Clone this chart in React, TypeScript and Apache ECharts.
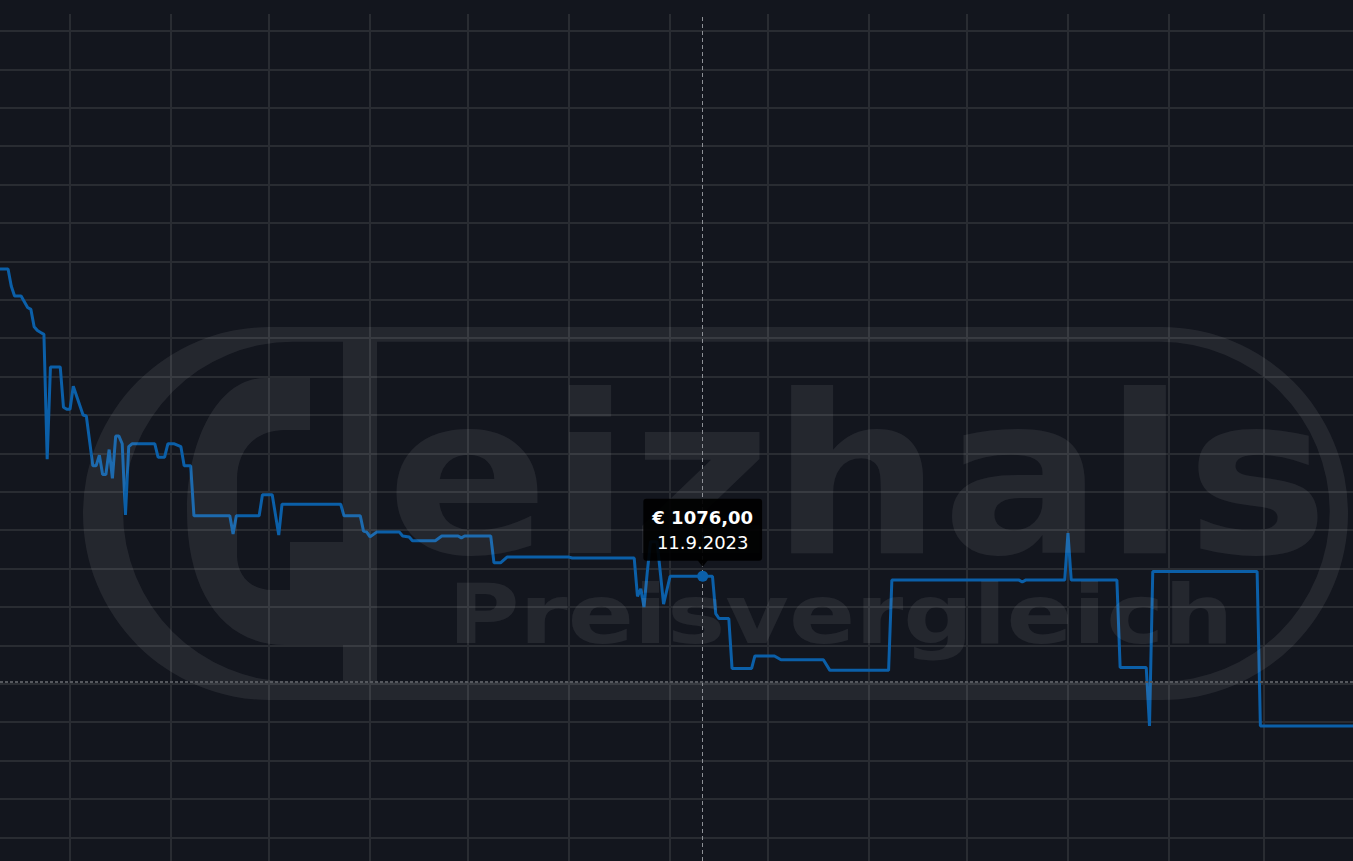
import React, { useEffect, useRef } from "react";
import * as echarts from "echarts";

// ---- data ----
const dates = [
  "2023-02-01", "2023-02-10", "2023-02-11", "2023-02-12", "2023-02-14", "2023-02-16",
  "2023-02-17", "2023-02-18", "2023-02-19", "2023-02-20", "2023-02-21", "2023-02-22",
  "2023-02-23", "2023-02-26", "2023-02-27", "2023-02-28", "2023-03-01", "2023-03-02",
  "2023-03-05", "2023-03-06", "2023-03-08", "2023-03-09", "2023-03-10", "2023-03-11",
  "2023-03-12", "2023-03-13", "2023-03-14", "2023-03-15", "2023-03-16", "2023-03-17",
  "2023-03-18", "2023-03-19", "2023-03-20", "2023-03-27", "2023-03-28", "2023-03-30",
  "2023-03-31", "2023-04-02", "2023-04-04", "2023-04-05", "2023-04-07", "2023-04-08",
  "2023-04-19", "2023-04-20", "2023-04-21", "2023-04-28", "2023-04-29", "2023-05-02",
  "2023-05-04", "2023-05-05", "2023-05-23", "2023-05-24", "2023-05-29", "2023-05-30",
  "2023-05-31", "2023-06-01", "2023-06-03", "2023-06-10", "2023-06-11", "2023-06-13",
  "2023-06-14", "2023-06-21", "2023-06-23", "2023-06-28", "2023-06-29", "2023-06-30",
  "2023-07-08", "2023-07-09", "2023-07-11", "2023-07-13", "2023-08-01", "2023-08-02",
  "2023-08-21", "2023-08-22", "2023-08-23", "2023-08-24", "2023-08-25", "2023-08-26",
  "2023-08-28", "2023-08-29", "2023-08-30", "2023-09-01", "2023-09-14", "2023-09-15",
  "2023-09-16", "2023-09-19", "2023-09-20", "2023-09-26", "2023-09-27", "2023-10-03",
  "2023-10-05", "2023-10-18", "2023-10-20", "2023-11-07", "2023-11-08", "2023-12-17",
  "2023-12-18", "2023-12-19", "2023-12-31", "2024-01-01", "2024-01-02", "2024-01-16",
  "2024-01-17", "2024-01-25", "2024-01-26", "2024-01-27", "2024-02-28", "2024-02-29",
  "2024-03-31",
];
const prices = [
  1236, 1236, 1227, 1222, 1222, 1216,
  1215, 1206, 1204, 1203, 1202, 1137,
  1185, 1185, 1164, 1163, 1163, 1175,
  1160, 1159.5, 1133.5, 1133.5, 1139, 1129,
  1129, 1142, 1127, 1149, 1149, 1145,
  1108, 1143.5, 1145, 1145, 1138, 1138,
  1145, 1145, 1143.5, 1133.5, 1133.5, 1107.5,
  1107.5, 1098, 1107.5, 1107.5, 1118.5, 1118.5,
  1097.5, 1113.5, 1113.5, 1107.5, 1107.5, 1099.5,
  1099, 1096.5, 1099, 1099, 1097, 1096.5,
  1094.5, 1094.5, 1097, 1097, 1096, 1097,
  1097, 1083, 1083, 1086, 1086, 1085.5,
  1085.5, 1065.5, 1069.5, 1060, 1078, 1094,
  1094, 1078, 1061.5, 1076, 1076, 1056.5,
  1054, 1054, 1028, 1028, 1034.5, 1034.5,
  1032.5, 1032.5, 1027, 1027, 1074, 1074,
  1073, 1074, 1074, 1098.5, 1074, 1074,
  1028.5, 1028.5, 998, 1078.5, 1078.5, 998,
  998,
];
const tipDate = "2023-09-11";
const tipPrice = 1076;
const refPrice = 1021;
const xRange = ["2023-02-07 12:45", "2024-03-28 09:36"];
const yRange = [927.7, 1368.85];
const yStep = 20;
const watermarkWords = ["eizhals", "Preisvergleich"];

// ---- styles ----
const BG = "#13161e";
const GRID = "#292c32";
const BLUE = "#0b5fa8";
const WM = "rgba(255,255,255,0.075)";

const LOGO_D =
  // outer stadium (cw)
  "M 269.5 327 L 1161.5 327 A 186.5 186.5 0 0 1 1161.5 700 L 269.5 700 A 186.5 186.5 0 0 1 269.5 327 Z " +
  // inner stadium (ccw, hole)
  "M 293 341.7 A 170 170 0 0 0 293 681.7 L 1159.7 681.7 A 170 170 0 0 0 1159.7 341.7 Z " +
  // g body with counter and spur
  "M 310 378 L 265 378 C 218 378 187 440 187 512 C 187 590 222 645 285 645 L 343 645 " +
  "L 343 542 L 290 542 L 290 590 L 272 590 C 250 590 237 575 237 555 L 237 480 " +
  "C 237 450 255 430 285 430 L 310 430 Z " +
  // g stem
  "M 343 341.7 L 377 341.7 L 377 681.7 L 343 681.7 Z";

echarts.graphic.registerShape("gzLogo", echarts.graphic.extendPath(LOGO_D, {}));

const fmtPrice = (p: number) => "€ " + p.toFixed(2).replace(".", ",");
const fmtDate = (s: string) => {
  const [y, m, d] = s.split("-").map(Number);
  return `${d}.${m}.${y}`;
};

export default function App() {
  const ref = useRef<HTMLDivElement>(null);
  useEffect(() => {
    if (!ref.current) return;
    const chart = echarts.init(ref.current, null, { renderer: "svg" });
    const seriesData = dates.map((d, i) => [d, prices[i]]);
    chart.setOption({
      animation: false,
      backgroundColor: BG,
      grid: { left: 0, right: 0, top: 14, bottom: 0, containLabel: false },
      xAxis: {
        type: "time",
        min: xRange[0],
        max: xRange[1],
        splitNumber: 14,
        axisLine: { show: false },
        axisTick: { show: false },
        axisLabel: { show: false },
        splitLine: {
          show: true,
          showMinLine: false,
          showMaxLine: false,
          lineStyle: { color: GRID, width: 2 },
        },
      },
      yAxis: {
        type: "value",
        min: yRange[0],
        max: yRange[1],
        splitNumber: 22,
        minInterval: yStep,
        maxInterval: yStep,
        axisLine: { show: false },
        axisTick: { show: false },
        axisLabel: { show: false },
        splitLine: {
          show: true,
          showMinLine: false,
          showMaxLine: false,
          lineStyle: { color: GRID, width: 2 },
        },
      },
      graphic: [
        { type: "gzLogo", x: 0, y: 0, z: 4, silent: true, style: { fill: WM } },
        {
          type: "text",
          x: 857.5,
          y: 476.5,
          scaleX: 1.086,
          z: 4,
          silent: true,
          style: {
            text: watermarkWords[0],
            fontSize: 221,
            fontWeight: "bold",
            fontFamily: "DejaVu Sans",
            fill: WM,
            textAlign: "center",
            textVerticalAlign: "middle",
          },
        },
        {
          type: "text",
          x: 840.75,
          y: 614.6,
          scaleX: 1.19,
          z: 4,
          silent: true,
          style: {
            text: watermarkWords[1],
            fontSize: 82,
            fontWeight: "bold",
            fontFamily: "DejaVu Sans",
            fill: WM,
            textAlign: "center",
            textVerticalAlign: "middle",
          },
        },
      ],
      series: [
        {
          type: "line",
          data: seriesData,
          showSymbol: false,
          silent: true,
          lineStyle: { color: BLUE, width: 3 },
          itemStyle: { color: BLUE },
          z: 2,
          markLine: {
            silent: true,
            z: 5,
            symbol: ["none", "none"],
            label: { show: false },
            data: [
              { xAxis: tipDate, lineStyle: { type: [4, 3], width: 1, color: "#8d9096" } },
              { yAxis: refPrice, lineStyle: { type: [3, 2], width: 2, color: "#55585e" } },
            ],
          },
          markPoint: {
            silent: true,
            z: 6,
            data: [
              {
                coord: [tipDate, tipPrice],
                symbol: "triangle",
                symbolRotate: 180,
                symbolSize: [11, 7],
                symbolOffset: [0, -13],
                itemStyle: { color: "rgba(0,0,0,0.92)" },
                label: { show: false },
              },
              {
                coord: [tipDate, tipPrice],
                symbol: "circle",
                symbolSize: 11,
                itemStyle: { color: BLUE },
                label: {
                  show: true,
                  position: "top",
                  distance: 10,
                  backgroundColor: "rgba(0,0,0,0.92)",
                  borderRadius: 3,
                  padding: [6, 9, 6, 9],
                  align: "center",
                  formatter: `{a|${fmtPrice(tipPrice)}}\n{b|${fmtDate(tipDate)}}`,
                  rich: {
                    a: {
                      fontFamily: "DejaVu Sans",
                      fontWeight: "bold",
                      fontSize: 18,
                      lineHeight: 25,
                      color: "#ffffff",
                      align: "center",
                    },
                    b: {
                      fontFamily: "DejaVu Sans",
                      fontSize: 18,
                      lineHeight: 25,
                      color: "#ffffff",
                      align: "center",
                    },
                  },
                },
              },
            ],
          },
        },
      ],
    });
    return () => chart.dispose();
  }, []);
  return (
    <div
      ref={ref}
      style={{ position: "absolute", left: 0, top: 0, width: 1353, height: 861 }}
    />
  );
}
